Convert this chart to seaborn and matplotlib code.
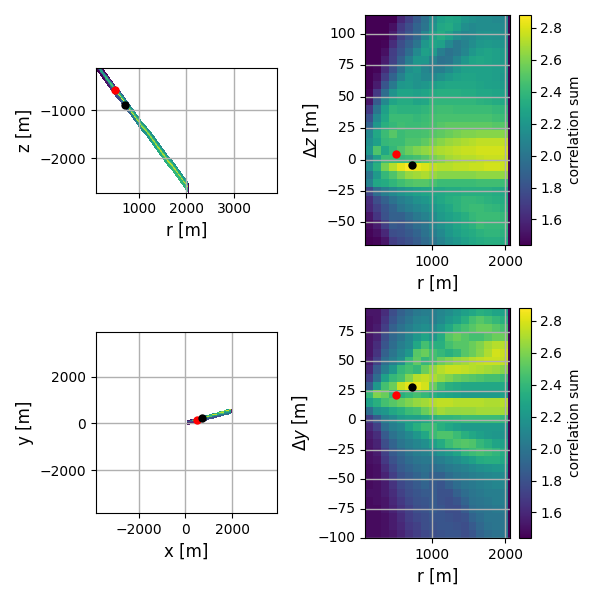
import numpy as np
import matplotlib
matplotlib.use("Agg")
import matplotlib.pyplot as plt
import seaborn as sns

# correlation sum, first row is the top of each panel
grid_dz = [
    [1.44,1.44,1.44,1.44,1.60,1.72,1.85,1.98,2.14,2.26,2.30,2.28,2.20,2.16,2.14,2.14,2.12,2.10],
    [1.44,1.44,1.44,1.50,1.68,1.78,1.90,2.00,2.18,2.30,2.32,2.25,2.15,2.12,2.14,2.14,2.14,2.12],
    [1.44,1.44,1.44,1.55,1.72,1.82,1.92,2.10,2.25,2.32,2.25,2.15,2.10,2.12,2.16,2.18,2.16,2.14],
    [1.44,1.44,1.46,1.62,1.78,1.88,2.00,2.20,2.28,2.25,2.12,2.02,2.08,2.14,2.20,2.22,2.20,2.18],
    [1.44,1.44,1.50,1.70,1.82,1.95,2.12,2.25,2.22,2.05,1.98,2.02,2.10,2.20,2.25,2.28,2.25,2.22],
    [1.44,1.44,1.55,1.72,1.88,2.05,2.20,2.20,2.08,1.98,2.00,2.10,2.20,2.28,2.30,2.28,2.25,2.22],
    [1.44,1.46,1.62,1.80,1.98,2.15,2.20,2.10,2.05,2.05,2.12,2.20,2.25,2.26,2.26,2.26,2.24,2.22],
    [1.44,1.50,1.70,1.90,2.08,2.20,2.18,2.12,2.12,2.16,2.22,2.26,2.28,2.28,2.26,2.26,2.24,2.20],
    [1.44,1.55,1.82,2.02,2.20,2.22,2.18,2.20,2.24,2.28,2.30,2.30,2.30,2.30,2.28,2.26,2.25,2.22],
    [1.46,1.68,1.95,2.18,2.28,2.28,2.25,2.28,2.32,2.34,2.34,2.34,2.32,2.32,2.30,2.30,2.28,2.25],
    [1.52,1.85,2.12,2.28,2.32,2.32,2.28,2.30,2.38,2.38,2.38,2.38,2.38,2.38,2.36,2.35,2.32,2.30],
    [1.68,2.00,2.25,2.38,2.36,2.36,2.36,2.38,2.42,2.44,2.44,2.42,2.42,2.42,2.42,2.42,2.40,2.38],
    [1.80,2.12,2.30,2.42,2.42,2.42,2.40,2.42,2.45,2.46,2.46,2.46,2.46,2.46,2.46,2.46,2.44,2.42],
    [1.90,2.20,2.35,2.40,2.44,2.42,2.42,2.44,2.46,2.50,2.52,2.52,2.52,2.52,2.52,2.52,2.50,2.50],
    [2.10,2.30,2.42,2.50,2.42,2.45,2.45,2.46,2.50,2.52,2.55,2.58,2.60,2.60,2.62,2.62,2.62,2.62],
    [2.15,2.25,2.40,2.42,2.42,2.48,2.48,2.52,2.58,2.62,2.66,2.68,2.70,2.72,2.74,2.74,2.74,2.74],
    [2.20,2.48,2.30,2.40,2.48,2.55,2.60,2.64,2.68,2.70,2.72,2.74,2.76,2.76,2.78,2.78,2.78,2.78],
    [2.05,2.25,2.42,2.42,2.40,2.42,2.45,2.50,2.58,2.62,2.68,2.70,2.72,2.72,2.74,2.76,2.76,2.76],
    [2.15,2.35,2.58,2.72,2.82,2.87,2.84,2.80,2.75,2.72,2.72,2.74,2.74,2.76,2.76,2.78,2.78,2.76],
    [2.00,2.22,2.40,2.48,2.58,2.66,2.68,2.70,2.66,2.62,2.62,2.62,2.62,2.62,2.64,2.64,2.64,2.64],
    [2.08,2.30,2.32,2.38,2.44,2.48,2.50,2.50,2.46,2.42,2.42,2.42,2.42,2.42,2.44,2.44,2.44,2.42],
    [1.75,1.95,2.05,2.12,2.18,2.22,2.25,2.28,2.30,2.30,2.32,2.32,2.34,2.34,2.34,2.34,2.32,2.30],
    [1.62,1.78,1.88,1.98,2.05,2.10,2.16,2.20,2.25,2.30,2.34,2.36,2.40,2.40,2.38,2.36,2.34,2.32],
    [1.60,1.72,1.82,1.90,2.00,2.05,2.10,2.14,2.20,2.25,2.30,2.36,2.40,2.42,2.42,2.40,2.38,2.35],
    [1.52,1.66,1.80,1.88,1.88,1.95,2.02,2.08,2.14,2.22,2.26,2.30,2.34,2.40,2.42,2.42,2.42,2.40],
    [1.48,1.55,1.70,1.84,1.82,1.88,1.95,2.00,2.10,2.16,2.22,2.28,2.32,2.36,2.42,2.40,2.40,2.38],
    [1.46,1.50,1.60,1.78,1.80,1.84,1.90,1.98,2.05,2.12,2.20,2.25,2.30,2.32,2.36,2.38,2.38,2.36],
    [1.44,1.46,1.52,1.70,1.76,1.80,1.86,1.94,2.00,2.08,2.15,2.20,2.25,2.30,2.32,2.34,2.34,2.32],
]
grid_dy = [
    [1.52,1.52,1.62,1.78,1.88,1.95,2.02,2.05,2.05,2.10,2.14,2.20,2.25,2.30,2.35,2.32,2.28,2.25],
    [1.50,1.52,1.66,1.82,1.92,2.00,2.08,2.10,2.05,2.12,2.20,2.25,2.35,2.45,2.50,2.45,2.40,2.35],
    [1.50,1.55,1.70,1.88,1.98,2.05,2.12,2.15,2.12,2.20,2.30,2.40,2.45,2.50,2.55,2.55,2.50,2.45],
    [1.52,1.58,1.78,1.92,2.00,2.10,2.20,2.28,2.20,2.32,2.50,2.55,2.50,2.45,2.45,2.50,2.55,2.55],
    [1.52,1.62,1.82,1.95,2.05,2.12,2.30,2.45,2.35,2.35,2.45,2.50,2.50,2.55,2.60,2.68,2.72,2.72],
    [1.52,1.65,1.88,2.00,2.10,2.20,2.50,2.55,2.45,2.40,2.35,2.40,2.50,2.55,2.62,2.70,2.78,2.76],
    [1.55,1.72,1.95,2.05,2.15,2.40,2.52,2.40,2.45,2.55,2.60,2.65,2.68,2.72,2.74,2.76,2.76,2.74],
    [1.60,1.85,2.05,2.20,2.40,2.45,2.40,2.55,2.65,2.72,2.76,2.76,2.74,2.72,2.70,2.68,2.66,2.62],
    [1.70,1.95,2.25,2.40,2.45,2.60,2.72,2.75,2.70,2.65,2.60,2.55,2.52,2.50,2.48,2.45,2.45,2.42],
    [1.85,2.20,2.45,2.55,2.76,2.82,2.84,2.78,2.55,2.42,2.35,2.32,2.30,2.30,2.30,2.30,2.30,2.30],
    [2.40,2.60,2.55,2.40,2.35,2.40,2.45,2.40,2.35,2.30,2.28,2.25,2.22,2.22,2.22,2.22,2.22,2.25],
    [2.25,2.35,2.45,2.50,2.55,2.60,2.65,2.68,2.72,2.74,2.74,2.72,2.72,2.72,2.72,2.70,2.70,2.72],
    [1.95,2.15,2.20,2.30,2.35,2.42,2.45,2.55,2.62,2.68,2.65,2.65,2.66,2.66,2.68,2.68,2.68,2.68],
    [1.70,1.85,2.05,2.12,2.22,2.25,2.25,2.30,2.35,2.38,2.38,2.40,2.42,2.42,2.42,2.42,2.42,2.40],
    [1.60,1.72,1.95,2.05,2.10,2.25,2.35,2.42,2.42,2.35,2.30,2.25,2.22,2.22,2.22,2.22,2.22,2.20],
    [1.55,1.62,1.85,1.98,2.05,2.12,2.20,2.30,2.42,2.48,2.48,2.42,2.35,2.30,2.25,2.22,2.20,2.18],
    [1.52,1.58,1.78,1.90,2.00,2.05,2.10,2.15,2.25,2.32,2.42,2.48,2.50,2.48,2.40,2.35,2.28,2.25],
    [1.50,1.55,1.72,1.85,1.92,2.00,2.05,2.08,2.12,2.18,2.22,2.28,2.38,2.42,2.45,2.42,2.38,2.32],
    [1.50,1.52,1.68,1.80,1.88,1.95,2.00,2.02,2.02,2.05,2.10,2.14,2.20,2.25,2.32,2.34,2.34,2.30],
    [1.48,1.50,1.62,1.75,1.85,1.90,1.95,1.98,1.95,1.98,2.02,2.05,2.08,2.12,2.15,2.18,2.20,2.20],
    [1.48,1.50,1.58,1.70,1.80,1.85,1.90,1.95,1.88,1.88,1.95,2.00,2.02,2.05,2.08,2.10,2.12,2.12],
    [1.48,1.50,1.55,1.65,1.75,1.80,1.85,1.90,1.85,1.82,1.88,1.95,2.00,2.02,2.05,2.08,2.10,2.10],
    [1.50,1.50,1.55,1.62,1.72,1.78,1.82,1.85,1.85,1.80,1.80,1.88,1.95,2.00,2.02,2.05,2.05,2.05],
    [1.48,1.50,1.52,1.60,1.68,1.75,1.80,1.82,1.85,1.80,1.78,1.82,1.90,1.98,2.00,2.02,2.05,2.05],
    [1.48,1.48,1.52,1.58,1.65,1.72,1.78,1.80,1.85,1.82,1.78,1.78,1.85,1.95,1.98,2.00,2.02,2.02],
    [1.48,1.48,1.50,1.55,1.62,1.70,1.75,1.78,1.82,1.82,1.80,1.78,1.80,1.90,1.95,2.00,2.00,2.00],
    [1.48,1.48,1.50,1.55,1.60,1.68,1.72,1.78,1.80,1.82,1.82,1.80,1.78,1.85,1.92,1.98,2.00,2.00],
    [1.48,1.48,1.50,1.52,1.58,1.65,1.70,1.75,1.78,1.80,1.82,1.82,1.78,1.82,1.90,1.95,1.98,2.00],
]

# event positions: r, dz, dy
red_point = [499, 4.7, 21]
black_point = [726, -4.6, 28]

r_ticks = [1000, 2000]
dz_ticks = [100, 75, 50, 25, 0, -25, -50]
dy_ticks = [75, 50, 25, 0, -25, -50, -75, -100]
cbar_ticks = [1.6, 1.8, 2.0, 2.2, 2.4, 2.6, 2.8]

# extents of the grids
r_start, r_stop, r_axis_end = 82, 2040, 2064
dz_top, dz_bottom = 115, -68
dy_top, dy_bottom = 95, -100
vmin, vmax = 1.44, 2.88

# straight line of the profile through the volume
z_slope, z_offset = -1.33, 82
x_factor, y_factor = 0.965, 0.26

grid_color = '#b0b0b0'
grid_width = 1.0


def axes_px(left, top, right, bottom):
    return [left / 600, 1 - bottom / 600, (right - left) / 600, (bottom - top) / 600]


def heat_panel(ax, cax, grid, top, bottom, yticks, ylabel, idx):
    n_rows, n_cols = np.shape(grid)

    def col(r):
        return (np.asarray(r) - r_start) / (r_stop - r_start) * n_cols

    def row(v):
        return (top - np.asarray(v)) / (top - bottom) * n_rows

    sns.heatmap(np.array(grid), ax=ax, cbar_ax=cax, cmap='viridis', vmin=vmin, vmax=vmax,
                cbar_kws={'label': 'correlation sum', 'ticks': cbar_ticks})
    ax.set_facecolor('#440154')
    ax.set_xlim(0, col(r_axis_end))
    ax.set_ylim(n_rows, 0)
    ax.set_xticks(col(r_ticks))
    ax.set_xticklabels(r_ticks, rotation=0, fontsize=10)
    ax.set_yticks(row(yticks))
    ax.set_yticklabels([str(v).replace('-', '\u2212') for v in yticks], rotation=0, fontsize=10)
    ax.tick_params(length=3.5, width=0.8)
    ax.grid(True, color=grid_color, lw=grid_width)
    for s in ax.spines.values():
        s.set_visible(True)
    for pt, c in [(red_point, 'red'), (black_point, 'black')]:
        sns.scatterplot(x=[float(col(pt[0]))], y=[float(row(pt[idx]))], color=c, s=36,
                        linewidth=0, ax=ax, zorder=3, clip_on=True, legend=False)
    ax.set_xlabel('r [m]', fontsize=12)
    ax.set_ylabel(ylabel, fontsize=12)
    cb = ax.collections[0].colorbar
    cb.outline.set_visible(True)
    cb.outline.set_linewidth(0.8)
    cb.ax.tick_params(labelsize=10, length=3.5, width=0.8)
    cb.ax.yaxis.label.set_size(10)


fig = plt.figure(figsize=(6, 6), dpi=100)

ax_rz = fig.add_axes(axes_px(96, 68, 277, 192.5))
ax_xy = fig.add_axes(axes_px(96, 332, 277, 513))
ax_dz = fig.add_axes(axes_px(365.3, 15, 510, 245))
ax_dy = fig.add_axes(axes_px(365.3, 308, 510, 538))
cax_dz = fig.add_axes(axes_px(519, 15, 530.5, 245))
cax_dy = fig.add_axes(axes_px(519, 308, 530.5, 538))

heat_panel(ax_dz, cax_dz, grid_dz, dz_top, dz_bottom, dz_ticks, r'$\Delta z$ [m]', 1)
heat_panel(ax_dy, cax_dy, grid_dy, dy_top, dy_bottom, dy_ticks, r'$\Delta y$ [m]', 2)

# same grids again, placed along the profile in absolute coordinates,
# with the thin dark column at the far end of r
n_cols = np.shape(grid_dz)[1]
r_edges = np.append(np.linspace(r_start, r_stop, n_cols + 1), r_axis_end)
dz_edges = np.linspace(dz_top, dz_bottom, np.shape(grid_dz)[0] + 1)
dy_edges = np.linspace(dy_top, dy_bottom, np.shape(grid_dy)[0] + 1)
strip_dz = np.column_stack([np.array(grid_dz), np.full(len(grid_dz), vmin)])
strip_dy = np.column_stack([np.array(grid_dy), np.full(len(grid_dy), vmin)])

R, DZ = np.meshgrid(r_edges, dz_edges)
ax_rz.pcolormesh(R, z_slope * R + z_offset + DZ, strip_dz, cmap='viridis', vmin=vmin, vmax=vmax)
R, DY = np.meshgrid(r_edges, dy_edges)
ax_xy.pcolormesh(x_factor * R, y_factor * R + DY, strip_dy, cmap='viridis', vmin=vmin, vmax=vmax)

for pt, c in [(red_point, 'red'), (black_point, 'black')]:
    sns.scatterplot(x=[pt[0]], y=[z_slope * pt[0] + z_offset + pt[1]], color=c, s=36,
                    linewidth=0, ax=ax_rz, zorder=3, legend=False)
    sns.scatterplot(x=[x_factor * pt[0]], y=[y_factor * pt[0] + pt[2]], color=c, s=36,
                    linewidth=0, ax=ax_xy, zorder=3, legend=False)

ax_rz.set_xlim(110, 3900)
ax_rz.set_ylim(-2712, -119)
ax_rz.set_xticks([1000, 2000, 3000])
ax_rz.set_yticks([-1000, -2000])
ax_rz.set_xlabel('r [m]', fontsize=12)
ax_rz.set_ylabel('z [m]', fontsize=12)

ax_xy.set_xlim(-3824, 3927)
ax_xy.set_ylim(-3840, 3910)
ax_xy.set_xticks([-2000, 0, 2000])
ax_xy.set_yticks([-2000, 0, 2000])
ax_xy.set_xlabel('x [m]', fontsize=12)
ax_xy.set_ylabel('y [m]', fontsize=12)

for ax in (ax_rz, ax_xy):
    ax.grid(True, color=grid_color, lw=grid_width)
    ax.tick_params(labelsize=10)

fig.savefig('out.png', dpi=100)
